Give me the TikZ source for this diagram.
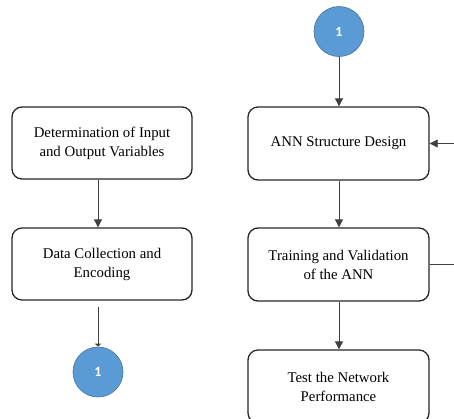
\documentclass[tikz,border=0pt]{standalone}
\usepackage{fontspec}
\setmainfont{Liberation Serif}
\newfontfamily\circfont{Carlito}
\usetikzlibrary{arrows.meta}
\definecolor{circfill}{HTML}{5B9BD5}
\definecolor{circdraw}{HTML}{41719C}
\definecolor{linegray}{HTML}{404040}
\tikzset{
  procbox/.style={draw=black!85, line width=1.3pt, rounded corners=10pt, minimum width=180pt, minimum height=72pt, align=center, font=\fontsize{14.8}{19}\selectfont, inner sep=2pt},
  conncirc/.style={circle, fill=circfill, draw=circdraw, line width=0.6pt, minimum size=50pt, inner sep=0pt, text=white, font=\circfont\fontsize{14}{16}\selectfont\bfseries},
  conn/.style={draw=linegray, line width=0.8pt, -{Triangle[length=8pt,width=8pt]}},
}
\begin{document}
\begin{tikzpicture}[x=1pt,y=-1pt]
\useasboundingbox (0,0) rectangle (454,418);
\clip (0,0) rectangle (454,418);
\node[procbox] (det) at (102,143) {Determination of Input\\and Output Variables};
\node[procbox] (data) at (102,264) {Data Collection and\\Encoding};
\node[conncirc] (c1) at (98,372) {1};
\node[conncirc] (c2) at (339,31.5) {1};
\node[procbox, minimum width=181pt, minimum height=73pt] (ann) at (338.5,143.5) {ANN Structure Design};
\node[procbox, minimum width=181pt, minimum height=73pt] (train) at (338.5,264.5) {Training and Validation\\of the ANN};
\node[procbox, minimum width=181pt, minimum height=73pt] (test) at (338.5,386.5) {Test the Network\\Performance};
\coordinate (fb) at (470,0);
\coordinate (gapstart) at ([yshift=-6pt]data.south -| c1);
\draw[conn] (det.south -| c1) -- (data.north -| c1);
\draw[conn, -{Triangle[length=3pt,width=6pt]}] (gapstart) -- (c1.north);
\draw[conn] (c2.south) -- (ann.north -| c2);
\draw[conn] (ann.south -| c2) -- (train.north -| c2);
\draw[conn] (train.south -| c2) -- (test.north -| c2);
\draw[conn] (train.east) -- (train.east -| fb) |- (ann.east);
\end{tikzpicture}
\end{document}
